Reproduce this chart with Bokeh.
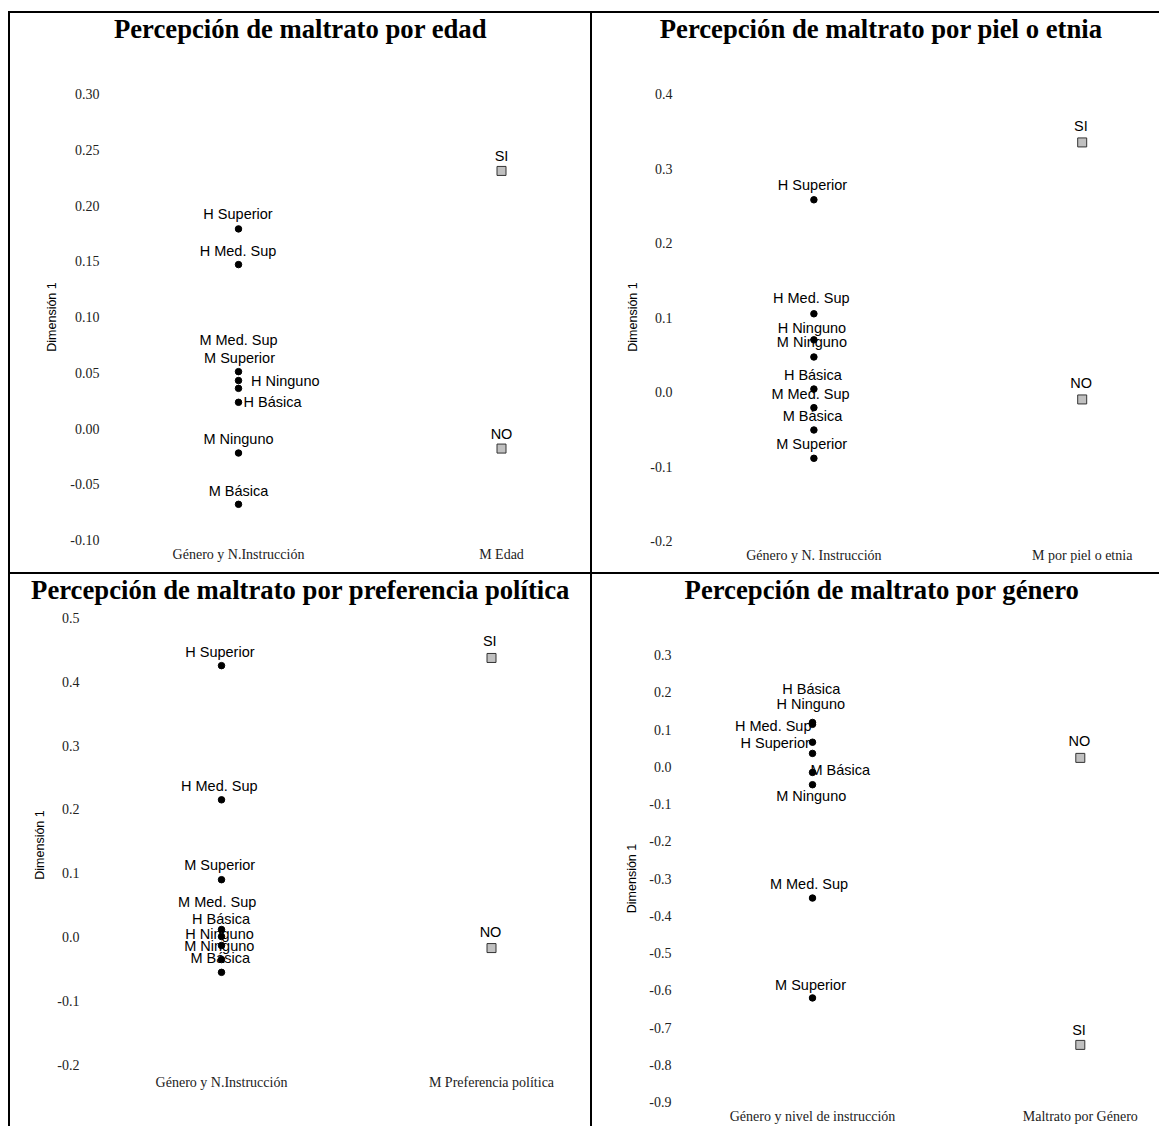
from bokeh.plotting import figure
from bokeh.models import (ColumnDataSource, Range1d, FixedTicker, PrintfTickFormatter,
                          Label, Spacer)
from bokeh.layouts import column, row
from bokeh.core.properties import field
from bokeh.embed import file_html
from bokeh.resources import INLINE

SERIF = "Liberation Serif"
SANS = "Liberation Sans"

# ---------------- data ----------------
# Panel 1: edad
edad_title = "Percepción de maltrato por edad"
edad_axis = ["Género y N.Instrucción", "M Edad"]
edad_ticks = [-0.10, -0.05, 0.00, 0.05, 0.10, 0.15, 0.20, 0.25, 0.30]
edad_cats = ["H Superior", "H Med. Sup", "M Med. Sup", "M Superior",
             "H Ninguno", "H Básica", "M Ninguno", "M Básica"]
edad_vals = [0.179, 0.147, 0.043, 0.051, 0.036, 0.0235, -0.022, -0.068]
edad_resp = ["SI", "NO"]
edad_resp_vals = [0.231, -0.018]

# Panel 2: piel o etnia
piel_title = "Percepción de maltrato por piel o etnia"
piel_axis = ["Género y N. Instrucción", "M por piel o etnia"]
piel_ticks = [-0.2, -0.1, 0.0, 0.1, 0.2, 0.3, 0.4]
piel_cats = ["H Superior", "H Med. Sup", "H Ninguno", "M Ninguno",
             "H Básica", "M Med. Sup", "M Básica", "M Superior"]
piel_vals = [0.258, 0.105, 0.070, 0.047, 0.004, -0.021, -0.051, -0.089]
piel_resp = ["SI", "NO"]
piel_resp_vals = [0.335, -0.010]

# Panel 3: preferencia política
pol_title = "Percepción de maltrato por preferencia política"
pol_axis = ["Género y N.Instrucción", "M Preferencia política"]
pol_ticks = [-0.2, -0.1, 0.0, 0.1, 0.2, 0.3, 0.4, 0.5]
pol_cats = ["H Superior", "H Med. Sup", "M Superior", "M Med. Sup",
            "H Básica", "H Ninguno", "M Ninguno", "M Básica"]
pol_vals = [0.425, 0.215, 0.090, 0.012, 0.001, -0.013, -0.035, -0.055]
pol_resp = ["SI", "NO"]
pol_resp_vals = [0.437, -0.017]

# Panel 4: género
gen_title = "Percepción de maltrato por género"
gen_axis = ["Género y nivel de instrucción", "Maltrato por Género"]
gen_ticks = [-0.9, -0.8, -0.7, -0.6, -0.5, -0.4, -0.3, -0.2, -0.1, 0.0, 0.1, 0.2, 0.3]
gen_cats = ["H Med. Sup", "H Ninguno", "H Básica", "H Superior",
            "M Básica", "M Ninguno", "M Med. Sup", "M Superior"]
gen_vals = [0.119, 0.114, 0.036, 0.066, -0.015, -0.048, -0.352, -0.620]
gen_resp = ["SI", "NO"]
gen_resp_vals = [-0.746, 0.024]

# ---------------- layout / style (page pixels) ----------------
# cell = (left, top, width, height); title strip height th
L1 = dict(cell=(8, 11, 582, 561), th=50, frame=(105, 90, 585, 543),
          xpix=(238, 501), ypix=((0.30, 93.5), (-0.10, 539.5)), fmt="%.2f",
          title_at=(300, 28.5), yl_standoff=6, ax_standoff=8, xl_standoff=3,
          dx=[-0.5, -0.5, 0, 1, 12.5, 5, 0, 0],
          dy=[-15.0, -13.6, -40.1, -13.6, -6.9, -0.5, -14.1, -13.4],
          al=["center"] * 4 + ["left", "left"] + ["center"] * 2,
          rdx=[0, 0], rdy=[-15.3, -14.5])
L2 = dict(cell=(590, 11, 569, 561), th=50, frame=(678, 90, 1150, 543),
          xpix=(813.4, 1081.7), ypix=((0.4, 93.5), (-0.2, 540.5)), fmt="%.1f",
          title_at=(880.6, 28.5), yl_standoff=6, ax_standoff=7, xl_standoff=4,
          dx=[-1.4, -2.6, -2, -2, -1, -3.4, -1.4, -2.2],
          dy=[-15.0, -15.3, -12.1, -14.8, -14.5, -13.8, -13.5, -14.5],
          al=["center"] * 8,
          rdx=[-1.3, -1], rdy=[-16.5, -16.2])
L3 = dict(cell=(8, 572, 582, 554), th=40, frame=(105, 617, 585, 1072),
          xpix=(221, 491), ypix=((0.5, 617.2), (-0.2, 1064.5)), fmt="%.1f",
          title_at=(300, 589.5), yl_standoff=26, ax_standoff=7, xl_standoff=2,
          dx=[-1.6, -2.2, -1.8, -4.3, -0.5, -2, -2.2, -1.3],
          dy=[-13.8, -13.7, -14.7, -27.6, -18.0, -11.7, -13.7, -14.5],
          al=["center"] * 8,
          rdx=[-1.7, -1], rdy=[-16.5, -16.3])
L4 = dict(cell=(590, 572, 569, 554), th=40, frame=(678, 653, 1150, 1103),
          xpix=(812, 1079.8), ypix=((0.3, 654.5), (-0.9, 1101.8)), fmt="%.1f",
          title_at=(881.5, 589), yl_standoff=7, ax_standoff=7, xl_standoff=5,
          dx=[-1, -1.7, -1.2, -2.7, -2, -1.3, -3.5, -2],
          dy=[4, -20.5, -64.7, 1.1, -2, 10.8, -14, -13.4],
          al=["right", "center", "center", "right", "left", "center", "center", "center"],
          rdx=[-1.3, -1], rdy=[-15.1, -16.5])


def make_title(title, lay):
    cx, cy, W, H = lay["cell"]
    th = lay["th"]
    t = figure(width=W, height=th, output_backend="svg", toolbar_location=None,
               title=None, x_range=Range1d(0, 1), y_range=Range1d(0, 1),
               x_axis_location=None, y_axis_location=None, min_border=0,
               background_fill_color=None, border_fill_color=None,
               outline_line_color=None)
    t.grid.visible = False
    t.styles = {"box-shadow": "inset 2px 2px 0 0 #000000"}
    tx, ty = lay["title_at"]
    # screen units: x from the frame's left edge, y upward from the frame's bottom edge
    t.add_layout(Label(x=tx - cx, y=(cy + th) - ty, x_units="screen", y_units="screen",
                       text=title, text_align="center", text_baseline="middle",
                       text_font=SERIF, text_font_style="bold",
                       text_font_size="26.7px", text_color="#000000"))
    return t


def make_panel(axis_names, ticks, cats, vals, resp, resp_vals, lay):
    cx, cy, W, H = lay["cell"]
    th = lay["th"]
    ox, oy = cx, cy + th
    PH = H - th
    fl, ft, fr, fb = lay["frame"]
    x1p, x2p = lay["xpix"]
    ppx = x2p - x1p
    (va, pa), (vb, pb) = lay["ypix"]
    ppy = (pb - pa) / (va - vb)

    p = figure(width=W, height=PH, output_backend="svg", toolbar_location=None,
               title=None,
               x_range=Range1d(1 - (x1p - fl) / ppx, 2 + (fr - x2p) / ppx),
               y_range=Range1d(vb - (fb - pb) / ppy, va + (pa - ft) / ppy),
               min_border_left=fl - ox, min_border_right=ox + W - fr,
               min_border_top=ft - oy, min_border_bottom=oy + PH - fb,
               background_fill_color=None, border_fill_color=None,
               outline_line_color=None)
    p.styles = {"box-shadow": "inset 2px 0 0 0 #000000"}
    p.xgrid.visible = False
    p.ygrid.visible = False

    for ax in (p.xaxis[0], p.yaxis[0]):
        ax.axis_line_color = None
        ax.major_tick_line_color = None
        ax.minor_tick_line_color = None
        ax.major_tick_in = 0
        ax.major_tick_out = 0
        ax.major_label_text_font = SERIF
        ax.major_label_text_font_size = "14px"
        ax.major_label_text_color = "#222222"

    ya = p.yaxis[0]
    ya.ticker = FixedTicker(ticks=ticks, minor_ticks=[])
    ya.formatter = PrintfTickFormatter(format=lay["fmt"])
    ya.major_label_standoff = lay["yl_standoff"]
    ya.axis_label = "Dimensión 1"
    ya.axis_label_text_font = SANS
    ya.axis_label_text_font_style = "normal"
    ya.axis_label_text_font_size = "12.5px"
    ya.axis_label_text_color = "#000000"
    ya.axis_label_standoff = lay["ax_standoff"]

    xa = p.xaxis[0]
    xa.ticker = FixedTicker(ticks=[1, 2], minor_ticks=[])
    xa.major_label_overrides = {1: axis_names[0], 2: axis_names[1]}
    xa.major_label_standoff = lay["xl_standoff"]

    src = ColumnDataSource(dict(x=[1] * len(cats), y=vals, t=cats,
                                dx=lay["dx"], dy=lay["dy"], al=lay["al"]))
    rsrc = ColumnDataSource(dict(x=[2] * len(resp), y=resp_vals, t=resp,
                                 dx=lay["rdx"], dy=lay["rdy"]))

    p.scatter("x", "y", source=src, marker="circle", size=6.5,
              fill_color="#000000", line_color="#000000")
    p.scatter("x", "y", source=rsrc, marker="square", size=9,
              fill_color="#c0c0c0", line_color="#333333", line_width=1)

    common = dict(text_font_size="14.5px", text_color="#000000", text_baseline="middle")
    p.text("x", "y", text="t", source=src, x_offset="dx", y_offset="dy",
           text_align=field("al"), text_font={"value": SANS}, **common)
    p.text("x", "y", text="t", source=rsrc, x_offset="dx", y_offset="dy",
           text_align="center", text_font={"value": SANS}, **common)
    return p


t1 = make_title(edad_title, L1)
t2 = make_title(piel_title, L2)
t3 = make_title(pol_title, L3)
t4 = make_title(gen_title, L4)

p1 = make_panel(edad_axis, edad_ticks, edad_cats, edad_vals, edad_resp, edad_resp_vals, L1)
p2 = make_panel(piel_axis, piel_ticks, piel_cats, piel_vals, piel_resp, piel_resp_vals, L2)
p3 = make_panel(pol_axis, pol_ticks, pol_cats, pol_vals, pol_resp, pol_resp_vals, L3)
p4 = make_panel(gen_axis, gen_ticks, gen_cats, gen_vals, gen_resp, gen_resp_vals, L4)

layout = row(Spacer(width=8, height=1126),
             column(Spacer(width=582, height=11), row(t1), p1, row(t3), p3),
             column(Spacer(width=569, height=11), row(t2), p2, row(t4), p4))

open("out.html", "w").write(file_html(layout, INLINE))
